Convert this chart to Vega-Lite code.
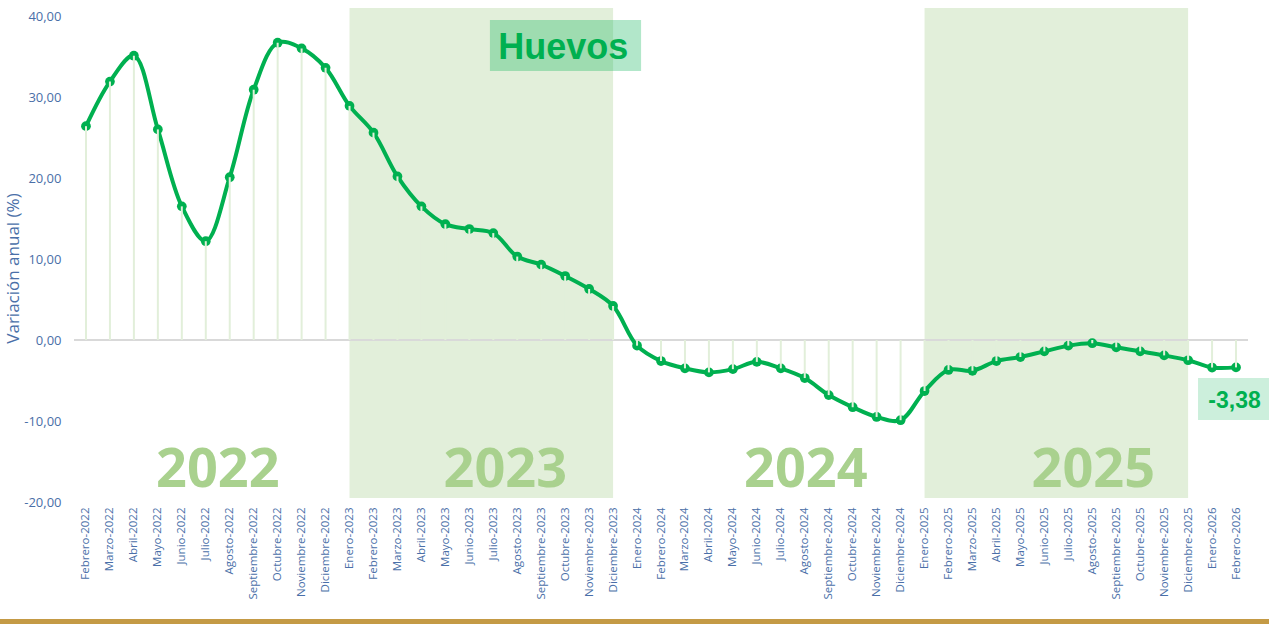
{
  "$schema": "https://vega.github.io/schema/vega-lite/v6.json",
  "width": 1174,
  "height": 486,
  "autosize": {"type": "none"},
  "padding": {"left": 74, "top": 16, "right": 21, "bottom": 122},
  "background": "white",
  "config": {
    "view": {"stroke": null},
    "locale": {"number": {"decimal": ",", "thousands": ".", "grouping": [3], "currency": ["", " €"], "minus": "-"}},
    "font": "Open Sans"
  },
  "datasets": {
    "serie": [
      {"mes": "Febrero-2022", "v": 26.4},
      {"mes": "Marzo-2022", "v": 31.9},
      {"mes": "Abril-2022", "v": 35.1},
      {"mes": "Mayo-2022", "v": 26.0},
      {"mes": "Junio-2022", "v": 16.5},
      {"mes": "Julio-2022", "v": 12.2},
      {"mes": "Agosto-2022", "v": 20.1},
      {"mes": "Septiembre-2022", "v": 30.9},
      {"mes": "Octubre-2022", "v": 36.7},
      {"mes": "Noviembre-2022", "v": 36.0},
      {"mes": "Diciembre-2022", "v": 33.6},
      {"mes": "Enero-2023", "v": 28.9},
      {"mes": "Febrero-2023", "v": 25.6},
      {"mes": "Marzo-2023", "v": 20.2},
      {"mes": "Abril-2023", "v": 16.5},
      {"mes": "Mayo-2023", "v": 14.3},
      {"mes": "Junio-2023", "v": 13.7},
      {"mes": "Julio-2023", "v": 13.2},
      {"mes": "Agosto-2023", "v": 10.3},
      {"mes": "Septiembre-2023", "v": 9.3},
      {"mes": "Octubre-2023", "v": 7.9},
      {"mes": "Noviembre-2023", "v": 6.3},
      {"mes": "Diciembre-2023", "v": 4.2},
      {"mes": "Enero-2024", "v": -0.7},
      {"mes": "Febrero-2024", "v": -2.6},
      {"mes": "Marzo-2024", "v": -3.5},
      {"mes": "Abril-2024", "v": -4.0},
      {"mes": "Mayo-2024", "v": -3.6},
      {"mes": "Junio-2024", "v": -2.7},
      {"mes": "Julio-2024", "v": -3.5},
      {"mes": "Agosto-2024", "v": -4.7},
      {"mes": "Septiembre-2024", "v": -6.8},
      {"mes": "Octubre-2024", "v": -8.3},
      {"mes": "Noviembre-2024", "v": -9.5},
      {"mes": "Diciembre-2024", "v": -9.9},
      {"mes": "Enero-2025", "v": -6.3},
      {"mes": "Febrero-2025", "v": -3.7},
      {"mes": "Marzo-2025", "v": -3.8},
      {"mes": "Abril-2025", "v": -2.6},
      {"mes": "Mayo-2025", "v": -2.1},
      {"mes": "Junio-2025", "v": -1.4},
      {"mes": "Julio-2025", "v": -0.7},
      {"mes": "Agosto-2025", "v": -0.4},
      {"mes": "Septiembre-2025", "v": -0.9},
      {"mes": "Octubre-2025", "v": -1.4},
      {"mes": "Noviembre-2025", "v": -1.9},
      {"mes": "Diciembre-2025", "v": -2.5},
      {"mes": "Enero-2026", "v": -3.4},
      {"mes": "Febrero-2026", "v": -3.38}
    ],
    "bandas": [
      {"ini": "Enero-2023", "fin": "Diciembre-2023"},
      {"ini": "Enero-2025", "fin": "Diciembre-2025"}
    ],
    "anios1": [
      {"mes": "Julio-2022", "anio": "2022"},
      {"mes": "Julio-2023", "anio": "2023"}
    ],
    "anios2": [
      {"mes": "Agosto-2024", "anio": "2024"},
      {"mes": "Agosto-2025", "anio": "2025"}
    ],
    "titulo": [
      {"ini": "Junio-2023", "fin": "Diciembre-2023", "centro": "Septiembre-2023", "texto": "Huevos"}
    ],
    "borde": [
      {"ini": "Febrero-2022", "fin": "Febrero-2026"}
    ]
  },
  "layer": [
    {
      "data": {"name": "bandas"},
      "mark": {"type": "rect", "color": "#e2efda"},
      "encoding": {
        "x": {"field": "ini", "type": "nominal"},
        "x2": {"field": "fin"},
        "y": {"datum": 41, "type": "quantitative"},
        "y2": {"datum": -19.5}
      }
    },
    {
      "data": {"name": "anios1"},
      "mark": {"type": "text", "font": "Open Sans", "fontWeight": "bold", "fontSize": 54, "color": "#a9d18e", "align": "center", "baseline": "alphabetic", "dx": 12},
      "encoding": {
        "x": {"field": "mes", "type": "nominal"},
        "y": {"datum": -18.15, "type": "quantitative"},
        "text": {"field": "anio"}
      }
    },
    {
      "data": {"name": "anios2"},
      "mark": {"type": "text", "font": "Open Sans", "fontWeight": "bold", "fontSize": 54, "color": "#a9d18e", "align": "center", "baseline": "alphabetic", "dx": 1},
      "encoding": {
        "x": {"field": "mes", "type": "nominal"},
        "y": {"datum": -18.15, "type": "quantitative"},
        "text": {"field": "anio"}
      }
    },
    {
      "data": {"name": "serie"},
      "mark": {"type": "rule", "color": "#d9d9d9", "strokeWidth": 2},
      "encoding": {"y": {"datum": 0, "type": "quantitative"}}
    },
    {
      "data": {"name": "serie"},
      "mark": {"type": "line", "interpolate": "catmull-rom", "color": "#00b050", "strokeWidth": 4},
      "encoding": {
        "x": {"field": "mes", "type": "nominal"},
        "y": {"field": "v", "type": "quantitative"}
      }
    },
    {
      "data": {"name": "serie"},
      "mark": {"type": "circle", "color": "#00b050", "opacity": 1, "size": 95},
      "encoding": {
        "x": {"field": "mes", "type": "nominal"},
        "y": {"field": "v", "type": "quantitative"}
      }
    },
    {
      "data": {"name": "serie"},
      "mark": {"type": "rule", "color": "#e2efda", "strokeWidth": 2},
      "encoding": {
        "x": {"field": "mes", "type": "nominal"},
        "y": {"field": "v", "type": "quantitative"},
        "y2": {"datum": 0}
      }
    },
    {
      "data": {"name": "titulo"},
      "mark": {"type": "rect", "color": "#00b050", "opacity": 0.3, "xOffset": 20.6, "x2Offset": 28},
      "encoding": {
        "x": {"field": "ini", "type": "nominal"},
        "x2": {"field": "fin"},
        "y": {"datum": 39.5, "type": "quantitative"},
        "y2": {"datum": 33.2}
      }
    },
    {
      "data": {"name": "titulo"},
      "mark": {"type": "text", "font": "Liberation Sans", "fontWeight": "bold", "fontSize": 36, "color": "#00b050", "align": "center", "baseline": "alphabetic", "dx": 22},
      "encoding": {
        "x": {"field": "centro", "type": "nominal"},
        "y": {"datum": 34.67, "type": "quantitative"},
        "text": {"field": "texto"}
      }
    },
    {
      "data": {"name": "serie"},
      "transform": [{"filter": "datum.mes === 'Febrero-2026'"}],
      "mark": {"type": "rect", "color": "#00b050", "opacity": 0.2, "xOffset": -38, "x2Offset": 33},
      "encoding": {
        "x": {"field": "mes", "type": "nominal"},
        "x2": {"field": "mes"},
        "y": {"datum": -4.69, "type": "quantitative"},
        "y2": {"datum": -9.88}
      }
    },
    {
      "data": {"name": "serie"},
      "transform": [{"filter": "datum.mes === 'Febrero-2026'"}],
      "mark": {"type": "text", "font": "Liberation Sans", "fontWeight": "bold", "fontSize": 23, "color": "#00b050", "align": "center", "baseline": "alphabetic", "dx": -1.5},
      "encoding": {
        "x": {"field": "mes", "type": "nominal"},
        "y": {"datum": -8.4, "type": "quantitative"},
        "text": {"field": "v", "type": "quantitative", "format": ".2f"}
      }
    },
    {
      "data": {"name": "borde"},
      "mark": {"type": "rule", "color": "#c49a45", "strokeWidth": 5, "xOffset": -86, "x2Offset": 33},
      "encoding": {
        "x": {"field": "ini", "type": "nominal"},
        "x2": {"field": "fin"},
        "y": {"datum": -34.75, "type": "quantitative"}
      }
    }
  ],
  "encoding": {
    "x": {
      "type": "nominal",
      "scale": {
        "type": "point",
        "padding": 0.5,
        "domain": ["Febrero-2022","Marzo-2022","Abril-2022","Mayo-2022","Junio-2022","Julio-2022","Agosto-2022","Septiembre-2022","Octubre-2022","Noviembre-2022","Diciembre-2022","Enero-2023","Febrero-2023","Marzo-2023","Abril-2023","Mayo-2023","Junio-2023","Julio-2023","Agosto-2023","Septiembre-2023","Octubre-2023","Noviembre-2023","Diciembre-2023","Enero-2024","Febrero-2024","Marzo-2024","Abril-2024","Mayo-2024","Junio-2024","Julio-2024","Agosto-2024","Septiembre-2024","Octubre-2024","Noviembre-2024","Diciembre-2024","Enero-2025","Febrero-2025","Marzo-2025","Abril-2025","Mayo-2025","Junio-2025","Julio-2025","Agosto-2025","Septiembre-2025","Octubre-2025","Noviembre-2025","Diciembre-2025","Enero-2026","Febrero-2026"]
      },
      "axis": {
        "title": null,
        "labelAngle": -90,
        "labelAlign": "right",
        "labelBaseline": "middle",
        "labelPadding": 5,
        "labelFontSize": 11.5,
        "labelColor": "#4a6fa8",
        "labelFont": "Open Sans",
        "labelOverlap": false,
        "domain": false,
        "ticks": false,
        "grid": false
      }
    },
    "y": {
      "type": "quantitative",
      "scale": {"domain": [-20, 40], "nice": false, "zero": false},
      "axis": {
        "title": "Variación anual (%)",
        "titleFont": "Open Sans",
        "titleFontWeight": "normal",
        "titleFontSize": 17,
        "titleColor": "#4a6fa8",
        "titleX": -61,
        "titleY": 252,
        "titleAngle": -90,
        "titleAlign": "center",
        "titleBaseline": "middle",
        "values": [-20, -10, 0, 10, 20, 30, 40],
        "format": ".2f",
        "labelFontSize": 13,
        "labelColor": "#4a6fa8",
        "labelFont": "Open Sans",
        "labelPadding": 13,
        "domain": false,
        "ticks": false,
        "grid": false
      }
    }
  }
}
